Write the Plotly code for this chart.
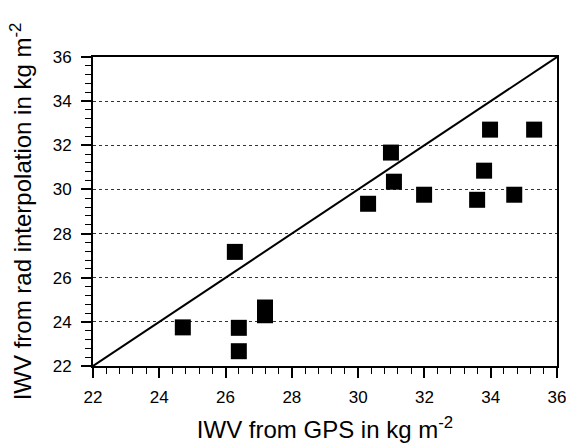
import plotly.graph_objects as go

# IWV pairs: GPS (x) versus radiometer interpolation (y), kg m^-2
iwv_gps = [24.71, 26.40, 26.40, 27.19, 27.19, 26.28, 30.30, 30.99, 31.08,
           31.99, 33.59, 33.80, 33.98, 34.71, 35.31]
iwv_rad = [23.75, 23.73, 22.67, 24.65, 24.30, 27.17, 29.35, 31.67, 30.35,
           29.76, 29.53, 30.85, 32.71, 29.76, 32.71]

axis_range = [22, 36]
tick_vals = [22, 24, 26, 28, 30, 32, 34, 36]

font_family = "Liberation Sans, Arial, sans-serif"

fig = go.Figure()

# 1:1 reference line
fig.add_trace(go.Scatter(
    x=axis_range, y=axis_range, mode="lines",
    line=dict(color="black", width=2), showlegend=False, hoverinfo="skip",
))

fig.add_trace(go.Scatter(
    x=iwv_gps, y=iwv_rad, mode="markers",
    marker=dict(symbol="square", size=16, color="black", line=dict(width=0)),
    showlegend=False,
))

common_axis = dict(
    range=axis_range,
    tickvals=tick_vals,
    ticks="outside",
    ticklen=10,
    tickwidth=1.5,
    tickcolor="black",
    showline=True,
    linecolor="black",
    linewidth=2,
    mirror=True,
    zeroline=False,
    automargin=False,
    ticklabeloverflow="allow",
    tickfont=dict(family=font_family, size=17, color="black"),
    minor=dict(dtick=0.4, tick0=22, ticks="outside", ticklen=6,
               tickwidth=1.2, tickcolor="black", showgrid=False),
)

fig.update_xaxes(
    **common_axis,
    showgrid=False,
    ticklabelstandoff=5,
    title=dict(text="IWV from GPS in kg m<sup>-2</sup>",
               font=dict(family=font_family, size=24, color="black"),
               standoff=16),
)
fig.update_yaxes(
    **common_axis,
    showgrid=True,
    gridcolor="#333333",
    gridwidth=1,
    griddash="dot",
    ticklabelstandoff=6,
    title=dict(text="IWV from rad interpolation in kg m<sup>-2</sup>",
               font=dict(family=font_family, size=24, color="black"),
               standoff=14),
)

fig.update_layout(
    width=566, height=443,
    margin=dict(l=93, r=9, t=57, b=77),
    plot_bgcolor="white",
    paper_bgcolor="white",
)

fig.write_html("out.html")
